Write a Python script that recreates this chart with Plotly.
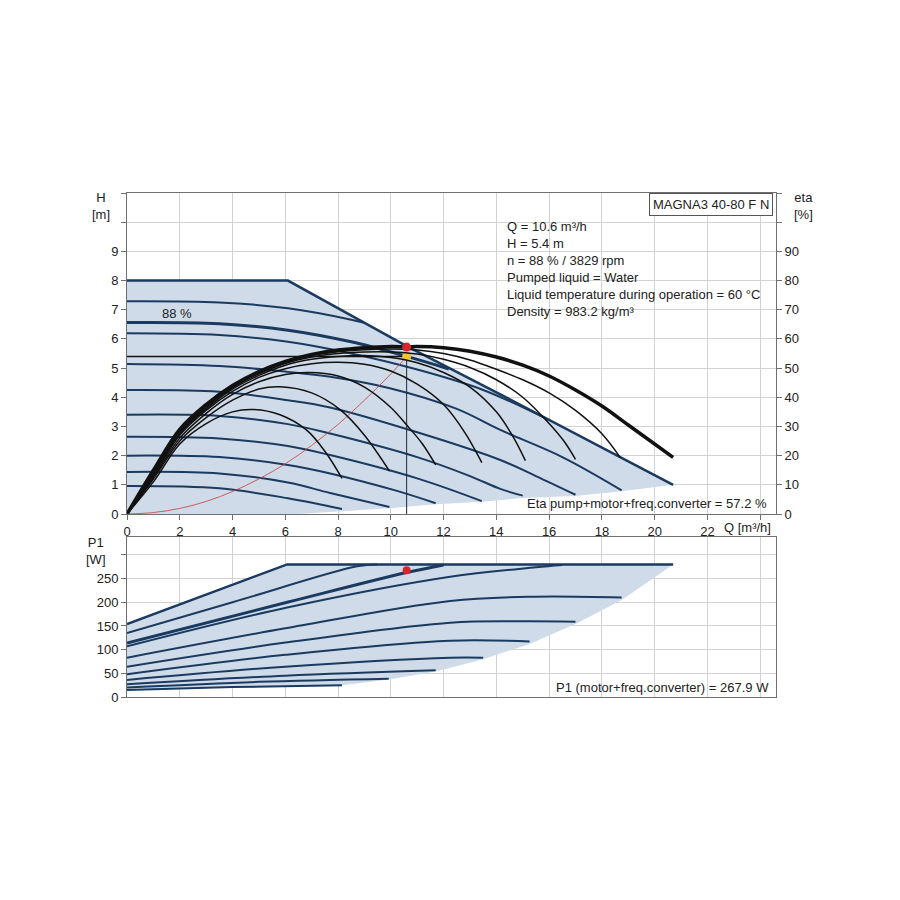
import plotly.graph_objects as go

# ---------------- Top chart: Q-H curves (Q [m3/h], H [m]) ----------------
h_max_q = [0, 6.1, 10.6, 14.15, 20.7]
h_max_h = [8.0, 8.0, 5.75, 4.1, 1.0]
h_729_q = [0, 3.5, 6.1, 8.5, 9.0]
h_729_h = [7.29, 7.25, 7.05, 6.66, 6.55]
h_88_q = [0, 3.5, 6.1, 8.5, 10.6, 12.2]
h_88_h = [6.56, 6.52, 6.3, 5.9, 5.4, 4.97]
h_619_q = [0, 3.5, 6.1, 8.5, 11, 13.5, 16.0]
h_619_h = [6.19, 6.13, 5.9, 5.5, 4.95, 4.25, 3.22]
h_514_q = [0, 3.5, 6.1, 7.7, 10, 12.5, 14.15, 16.5, 18.75]
h_514_h = [5.14, 5.07, 4.87, 4.7, 4.3, 3.6, 2.88, 1.95, 0.81]
h_425_q = [0, 3.5, 6.1, 7.7, 11, 14.15, 15.5, 17.0]
h_425_h = [4.25, 4.19, 3.9, 3.65, 2.8, 1.85, 1.3, 0.66]
h_340_q = [0, 3.5, 6.1, 7.7, 11, 13, 14.15, 15.0]
h_340_h = [3.40, 3.36, 3.08, 2.76, 1.95, 1.3, 0.86, 0.63]
h_265_q = [0, 3.5, 6.1, 7.7, 11, 13.45]
h_265_h = [2.65, 2.59, 2.33, 2.02, 1.22, 0.44]
h_200_q = [0, 3.5, 6.1, 7.7, 10.2, 11.7]
h_200_h = [2.0, 1.95, 1.68, 1.39, 0.8, 0.37]
h_144_q = [0, 3.5, 6.1, 7.7, 9.95]
h_144_h = [1.44, 1.39, 1.08, 0.72, 0.24]
h_096_q = [0, 3.5, 6.1, 8.15]
h_096_h = [0.96, 0.88, 0.54, 0.17]

# lower edge of the shaded operating range
range_lo_q = [20.7, 18.75, 17.0, 15.0, 13.45, 11.7, 9.95, 8.15, 6.5, 0]
range_lo_h = [1.0, 0.78, 0.62, 0.55, 0.42, 0.33, 0.2, 0.1, 0.0, 0.0]

# ---------------- Efficiency curves (eta [%]) ----------------
eta_a_q = [0, 1, 2, 3, 4, 4.8, 5.8, 6.8, 7.5, 8.15]
eta_a_v = [0, 11, 24, 31, 35, 35.8, 34, 28.8, 21.5, 12.2]
eta_b_q = [0, 1, 2, 3, 4, 5, 5.8, 7, 8.1, 9, 9.95]
eta_b_v = [0, 12, 25, 33, 39, 42.8, 43.6, 41.5, 35.6, 27, 14.7]
eta_c_q = [0, 1, 2, 3, 4, 5, 6, 6.9, 8, 9, 10, 10.6, 11.2, 11.7]
eta_c_v = [0, 12.5, 26, 34.5, 41, 45.3, 47.8, 48.5, 47.3, 43.5, 36.5, 30.5, 24, 16.8]
eta_d_q = [0, 1, 2, 3, 4, 5, 6, 7, 8, 9, 10, 11, 12, 12.8, 13.45]
eta_d_v = [0, 13, 27, 35.5, 42, 46.8, 49.8, 51.5, 52, 51.3, 49, 44.5, 37.5, 28, 17.6]
eta_e_q = [0, 1, 2, 3, 4, 5, 6, 7, 8, 9, 10, 11, 12, 13, 14, 14.6, 15.1]
eta_e_v = [0, 13.5, 27.5, 36, 42.8, 47.5, 51, 53, 54, 54.3, 53.6, 51.8, 48.5, 43.5, 35, 27, 18.3]
eta_f_q = [0, 1, 2, 3, 4, 5, 6, 7, 8, 9, 10, 11, 12, 13, 14, 15, 16, 16.6, 17.0]
eta_f_v = [0, 14, 28, 36.5, 43.2, 48, 51.6, 53.8, 55, 55.5, 55.5, 54.8, 53, 50.2, 46, 40, 31, 24.5, 18.7]
eta_g_q = [0, 1, 2, 3, 4, 5, 6, 7, 8, 9, 10, 11, 12, 13, 14, 15, 16, 17, 18, 18.7]
eta_g_v = [0, 14.5, 28.5, 37, 43.6, 48.5, 52, 54.3, 55.6, 56.3, 56.5, 56.2, 55, 52.8, 49.6, 46, 41.5, 35.5, 27.5, 19.3]
eta_op_q = [0, 1, 2, 3, 4, 5, 6, 7, 8, 9, 10, 10.6, 11, 12, 13, 14, 15, 16, 17, 18, 19, 20, 20.7]
eta_op_v = [0, 15, 29, 37.5, 44, 48.8, 52.3, 54.7, 56.2, 57, 57.4, 57.3, 57.4, 57.0, 55.8, 53.8, 51, 47.3, 42.5, 37, 30.5, 24, 19.4]

# system curve through duty point
sys_q = [0, 1, 2, 3, 4, 5, 6, 7, 8, 9, 10, 10.6]
sys_h = [0, 0.05, 0.19, 0.43, 0.77, 1.2, 1.72, 2.35, 3.07, 3.9, 4.8, 5.4]

# duty point
duty_q = 10.6
duty_h = 5.4
duty_eta = 57.2
duty_p1 = 267.9

# ---------------- Bottom chart: P1 curves (W) ----------------
p_max_q = [0, 6.07, 20.7]
p_max_v = [154, 280, 280]
p_2_q = [0, 4, 8.72, 9.5]
p_2_v = [135, 200, 276, 280]
p_88_q = [0, 6.07, 10.6, 12.0]
p_88_v = [114, 200, 263, 279]
p_4_q = [0, 6.07, 12.25, 15.5, 16.5]
p_4_v = [107, 189, 254, 274, 279]
p_5_q = [0, 6, 12.25, 15.5, 18.75]
p_5_v = [83, 145, 203, 212, 210]
p_6_q = [0, 6, 12.25, 15, 17.0]
p_6_v = [64, 115, 157, 160, 159]
p_7_q = [0, 6, 12.25, 15.26]
p_7_v = [48, 89, 119, 117]
p_8_q = [0, 6, 12.25, 13.5]
p_8_v = [36, 64, 83, 83]
p_9_q = [0, 6, 11.7]
p_9_v = [27, 45, 56.5]
p_10_q = [0, 5, 9.92]
p_10_v = [20, 32, 38.8]
p_11_q = [0, 4, 8.15]
p_11_v = [15, 21, 24.8]

p_lo_q = [20.7, 18.75, 17.0, 15.26, 13.5, 11.7, 9.92, 8.15, 4, 0]
p_lo_v = [280, 205, 154, 112, 80, 54, 37, 24.8, 21, 15]

x_ticks = list(range(0, 25, 2))
x_ticktext = [str(v) for v in range(0, 23, 2)] + [""]
h_ticks = list(range(0, 12))
h_ticktext = [str(v) for v in range(0, 10)] + ["", ""]
eta_ticks = list(range(0, 111, 10))
eta_ticktext = [str(v) for v in range(0, 91, 10)] + ["", ""]
p_ticks = list(range(0, 301, 50))
p_ticktext = [str(v) for v in range(0, 251, 50)] + [""]

NAVY = "#1b3a60"
FILL = "#cfdbe8"
FONT = "Liberation Sans, Arial, sans-serif"
FS = 13

fig = go.Figure()

# shaded region top
fig.add_trace(go.Scatter(x=h_max_q + range_lo_q, y=h_max_h + range_lo_h, fill="toself",
                         fillcolor=FILL, line=dict(width=0), mode="lines",
                         xaxis="x", yaxis="y", hoverinfo="skip"))
# shaded region bottom
fig.add_trace(go.Scatter(x=p_max_q + p_lo_q, y=p_max_v + p_lo_v, fill="toself",
                         fillcolor=FILL, line=dict(width=0), mode="lines",
                         xaxis="x2", yaxis="y3", hoverinfo="skip"))

qh = [(h_max_q, h_max_h, 2.5, "linear"), (h_729_q, h_729_h, 2, "spline"),
      (h_88_q, h_88_h, 3, "spline"), (h_619_q, h_619_h, 2, "spline"),
      (h_514_q, h_514_h, 2, "spline"), (h_425_q, h_425_h, 2, "spline"),
      (h_340_q, h_340_h, 2, "spline"), (h_265_q, h_265_h, 2, "spline"),
      (h_200_q, h_200_h, 2, "spline"), (h_144_q, h_144_h, 2, "spline"),
      (h_096_q, h_096_h, 2, "spline")]
for q, h, w, shp in qh:
    fig.add_trace(go.Scatter(x=q, y=h, mode="lines", line=dict(color=NAVY, width=w, shape=shp),
                             xaxis="x", yaxis="y"))

# system curve
fig.add_trace(go.Scatter(x=sys_q, y=sys_h, mode="lines", line=dict(color="rgba(200,70,70,0.85)", width=1, shape="spline"),
                         xaxis="x", yaxis="y"))
# duty lines
fig.add_trace(go.Scatter(x=[0, duty_q], y=[duty_h, duty_h], mode="lines", line=dict(color="#111111", width=1.5),
                         xaxis="x", yaxis="y"))
fig.add_trace(go.Scatter(x=[duty_q, duty_q], y=[0, duty_h], mode="lines", line=dict(color="#1a2a3a", width=1),
                         xaxis="x", yaxis="y"))

etas = [(eta_a_q, eta_a_v, 1.5), (eta_b_q, eta_b_v, 1.5), (eta_c_q, eta_c_v, 1.5),
        (eta_d_q, eta_d_v, 1.5), (eta_e_q, eta_e_v, 1.5), (eta_f_q, eta_f_v, 1.5),
        (eta_g_q, eta_g_v, 1.5), (eta_op_q, eta_op_v, 3.5)]
for q, v, w in etas:
    fig.add_trace(go.Scatter(x=q, y=v, mode="lines", line=dict(color="#111111", width=w, shape="spline"),
                             xaxis="x", yaxis="y2"))

pc = [(p_max_q, p_max_v, 2.5, "linear"), (p_2_q, p_2_v, 2, "spline"), (p_88_q, p_88_v, 3, "spline"),
      (p_4_q, p_4_v, 2, "spline"), (p_5_q, p_5_v, 2, "spline"), (p_6_q, p_6_v, 2, "spline"),
      (p_7_q, p_7_v, 2, "spline"), (p_8_q, p_8_v, 2, "spline"), (p_9_q, p_9_v, 2, "spline"),
      (p_10_q, p_10_v, 2, "spline"), (p_11_q, p_11_v, 2, "spline")]
for q, v, w, shp in pc:
    fig.add_trace(go.Scatter(x=q, y=v, mode="lines", line=dict(color=NAVY, width=w, shape=shp),
                             xaxis="x2", yaxis="y3"))

# duty markers
fig.add_trace(go.Scatter(x=[duty_q], y=[duty_h], mode="markers",
                         marker=dict(color="#f2c230", size=9, line=dict(width=0)), xaxis="x", yaxis="y"))
fig.add_trace(go.Scatter(x=[duty_q], y=[duty_eta], mode="markers",
                         marker=dict(color="#d9262b", size=9, line=dict(width=0)), xaxis="x", yaxis="y2"))
fig.add_trace(go.Scatter(x=[duty_q], y=[duty_p1], mode="markers",
                         marker=dict(color="#d9262b", size=8, line=dict(width=0)), xaxis="x2", yaxis="y3"))

axis_common = dict(showgrid=True, gridcolor="#d2d2d2", gridwidth=1, zeroline=False,
                   showline=True, linecolor="#707070", linewidth=1, mirror=True,
                   tickfont=dict(family=FONT, size=FS, color="#222"))

fig.update_layout(
    width=900, height=900, autosize=False,
    margin=dict(l=127, r=124, t=193, b=203, pad=0),
    paper_bgcolor="white", plot_bgcolor="white",
    showlegend=False,
    font=dict(family=FONT, size=FS, color="#222"),
    xaxis=dict(domain=[0, 1], anchor="y", range=[0, 24.6], tickmode="array",
               tickvals=x_ticks, ticktext=x_ticktext, ticks="outside", ticklen=5,
               tickcolor="#707070", **axis_common),
    yaxis=dict(domain=[0.3631, 1], anchor="x", range=[0, 11], tickmode="array",
               tickvals=h_ticks, ticktext=h_ticktext, ticks="outside", ticklen=5,
               tickcolor="#707070", **axis_common),
    yaxis2=dict(overlaying="y", anchor="x", side="right", range=[0, 110], tickmode="array",
                tickvals=eta_ticks, ticktext=eta_ticktext, ticks="outside", ticklen=5,
                tickcolor="#707070", showgrid=False, zeroline=False, showline=True,
                linecolor="#707070", tickfont=dict(family=FONT, size=FS, color="#222")),
    xaxis2=dict(domain=[0, 1], anchor="y3", range=[0, 24.6], tickmode="array",
                tickvals=x_ticks, showticklabels=False, ticks="", **axis_common),
    yaxis3=dict(domain=[0, 0.3175], anchor="x2", range=[0, 338], tickmode="array",
                tickvals=p_ticks, ticktext=p_ticktext, ticks="outside", ticklen=5,
                tickcolor="#707070", **axis_common),
)

def pxx(px):
    return (px - 127) / 649.0

def pxy(py):
    return (697 - py) / 504.0

ann = []
ann.append(dict(x=pxx(101), y=pxy(206), xref="paper", yref="paper", text="H<br>[m]",
                showarrow=False, xanchor="center", yanchor="middle"))
ann.append(dict(x=pxx(803), y=pxy(206), xref="paper", yref="paper", text="eta<br>[%]",
                showarrow=False, xanchor="center", yanchor="middle"))
ann.append(dict(x=pxx(96), y=pxy(551), xref="paper", yref="paper", text="P1<br>[W]",
                showarrow=False, xanchor="center", yanchor="middle"))
ann.append(dict(x=pxx(722), y=pxy(527), xref="paper", yref="paper", text="Q [m³/h]",
                showarrow=False, xanchor="left", yanchor="middle"))
ann.append(dict(x=pxx(773), y=1, xref="paper", yref="paper", text="MAGNA3 40-80 F N",
                showarrow=False, xanchor="right", yanchor="top", bordercolor="#555555",
                borderwidth=1, borderpad=3, bgcolor="white"))
info = ("Q = 10.6 m³/h<br>H = 5.4 m<br>n = 88 % / 3829 rpm<br>Pumped liquid = Water<br>"
        "Liquid temperature during operation = 60 °C<br>Density = 983.2 kg/m³")
ann.append(dict(x=pxx(505), y=pxy(217), xref="paper", yref="paper", text=info, align="left",
                showarrow=False, xanchor="left", yanchor="top"))
ann.append(dict(x=1.9, y=6.88, xref="x", yref="y", text="88 %", showarrow=False,
                xanchor="center", yanchor="middle"))
ann.append(dict(x=pxx(769), y=pxy(503), xref="paper", yref="paper",
                text="Eta pump+motor+freq.converter = 57.2 %", showarrow=False,
                xanchor="right", yanchor="middle"))
ann.append(dict(x=pxx(771), y=pxy(687), xref="paper", yref="paper",
                text="P1 (motor+freq.converter) = 267.9 W", showarrow=False,
                xanchor="right", yanchor="middle"))
fig.update_layout(annotations=ann)

fig.write_html("out.html", config={"displayModeBar": False},
               post_script="document.body.style.margin='0';")
